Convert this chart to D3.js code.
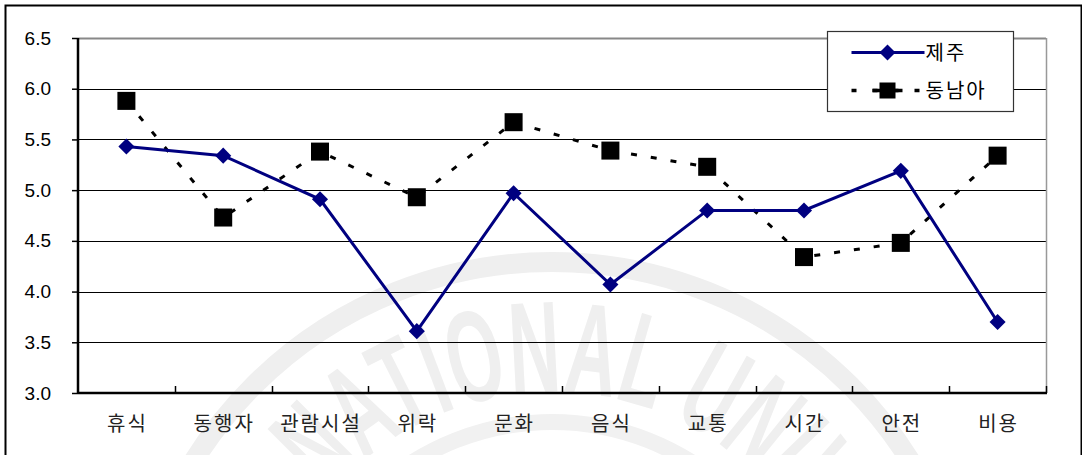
<!doctype html>
<html lang="ko">
  <head>
    <meta charset="UTF-8" />
    <title>제주 vs 동남아</title>
    <style>
      body { margin: 0; background: #fff; }
      text { font-family: "Liberation Sans", Arial, sans-serif; }
      .kr { font-family: "Noto Sans CJK KR", sans-serif; }
    </style>
  </head>
  <body>
    <div id="chart"></div>
    <script src="https://cdn.jsdelivr.net/npm/d3@7"></script>
    <script>
      const categories = ["휴식", "동행자", "관람시설", "위락", "문화", "음식", "교통", "시간", "안전", "비용"];
      const jeju = [5.43, 5.34, 4.91, 3.61, 4.97, 4.07, 4.80, 4.80, 5.19, 3.70];
      const seAsia = [5.88, 4.73, 5.38, 4.93, 5.67, 5.39, 5.23, 4.34, 4.48, 5.34];
      const yTicks = [3.0, 3.5, 4.0, 4.5, 5.0, 5.5, 6.0, 6.5];

      const width = 1082, height = 455;
      const margin = { top: 38, right: 36, bottom: 62, left: 78 };

      const svg = d3.select("#chart").append("svg")
          .attr("width", width)
          .attr("height", height);

      // faint watermark seal behind the chart
      const wm = svg.append("g").attr("transform", "translate(552,684)");
      wm.append("circle").attr("r", 422).attr("fill", "none")
          .attr("stroke", "#efefef").attr("stroke-width", 20);
      wm.append("circle").attr("r", 262).attr("fill", "none")
          .attr("stroke", "#f1f1f1").attr("stroke-width", 16);
      const r0 = 292, a0 = -50 * Math.PI / 180, a1 = 112 * Math.PI / 180;
      wm.append("path").attr("id", "wmArc").attr("fill", "none")
          .attr("d", `M${r0 * Math.sin(a0)},${-r0 * Math.cos(a0)}A${r0},${r0} 0 0 1 ${r0 * Math.sin(a1)},${-r0 * Math.cos(a1)}`);
      wm.append("text")
          .style("font-family", "'Liberation Sans Narrow', 'Liberation Sans', sans-serif")
          .style("font-weight", "bold")
          .style("font-size", "130px")
          .style("fill", "#efefef")
          .append("textPath")
          .attr("href", "#wmArc")
          .attr("textLength", 800)
          .attr("lengthAdjust", "spacingAndGlyphs")
          .text("NATIONAL UNIVERSITY");

      // outer frame
      svg.append("rect")
          .attr("x", 5.5).attr("y", 5.5)
          .attr("width", width - 6).attr("height", height + 10)
          .attr("fill", "none").attr("stroke", "#000").attr("stroke-width", 2);

      const x = d3.scaleBand().domain(categories)
          .range([margin.left, width - margin.right]);
      const y = d3.scaleLinear().domain([3, 6.5])
          .range([height - margin.bottom, margin.top]);

      // gridlines
      svg.append("g").selectAll("line")
          .data(yTicks.slice(1))
          .enter().append("line")
          .attr("x1", margin.left).attr("x2", width - margin.right)
          .attr("y1", d => Math.round(y(d)) + 0.5).attr("y2", d => Math.round(y(d)) + 0.5)
          .attr("stroke", d => d === 6.5 ? "#888" : "#000")
          .attr("stroke-width", d => d === 6.5 ? 2 : 1);

      // right edge
      svg.append("line")
          .attr("x1", width - margin.right + 0.5).attr("x2", width - margin.right + 0.5)
          .attr("y1", margin.top).attr("y2", height - margin.bottom)
          .attr("stroke", "#999").attr("stroke-width", 1.5);

      // y axis
      const yAxis = svg.append("g")
          .attr("transform", `translate(${margin.left},0)`)
          .call(d3.axisLeft(y).tickValues(yTicks).tickFormat(d3.format(".1f")).tickSize(6).tickPadding(21));
      yAxis.select(".domain").attr("stroke-width", 2.5).attr("d", `M0,${margin.top}V${height - margin.bottom}`);
      yAxis.selectAll(".tick line").attr("stroke-width", 1.5);
      yAxis.selectAll(".tick text").style("font-size", "19px").style("fill", "#000");

      // x axis
      const xAxis = svg.append("g")
          .attr("transform", `translate(0,${height - margin.bottom})`);
      xAxis.append("line")
          .attr("x1", margin.left).attr("x2", width - margin.right + 1)
          .attr("stroke", "#000").attr("stroke-width", 2.5);
      xAxis.selectAll("line.tk")
          .data(categories.slice(1).concat(["end"]))
          .enter().append("line").attr("class", "tk")
          .attr("x1", (d, i) => Math.round(margin.left + x.step() * (i + 1)) + 0.5)
          .attr("x2", (d, i) => Math.round(margin.left + x.step() * (i + 1)) + 0.5)
          .attr("y1", 0).attr("y2", -7)
          .attr("stroke", "#000").attr("stroke-width", 1.5);
      xAxis.selectAll("text")
          .data(categories)
          .enter().append("text")
          .attr("class", "kr")
          .attr("x", d => x(d) + x.bandwidth() / 2 + 1)
          .attr("y", 38)
          .attr("text-anchor", "middle")
          .style("fill", "#222")
          .style("font-size", "20px")
          .style("letter-spacing", "2px")
          .text(d => d);

      const cx = (d, i) => x(categories[i]) + x.bandwidth() / 2;
      const line = d3.line().x(cx).y(d => y(d));

      // 동남아 series
      svg.append("path")
          .datum(seAsia)
          .attr("d", line)
          .attr("fill", "none")
          .attr("stroke", "#000")
          .attr("stroke-width", 3)
          .attr("stroke-dasharray", "6,14");
      svg.append("g").selectAll("rect")
          .data(seAsia)
          .enter().append("rect")
          .attr("x", (d, i) => cx(d, i) - 9)
          .attr("y", d => y(d) - 9)
          .attr("width", 18).attr("height", 18)
          .attr("fill", "#000");

      // 제주 series
      svg.append("path")
          .datum(jeju)
          .attr("d", line)
          .attr("fill", "none")
          .attr("stroke", "#000080")
          .attr("stroke-width", 3);
      const diamond = d3.symbol().type(d3.symbolDiamond2).size(165);
      svg.append("g").selectAll("path")
          .data(jeju)
          .enter().append("path")
          .attr("d", diamond)
          .attr("transform", (d, i) => `translate(${cx(d, i)},${y(d)})`)
          .attr("fill", "#000080");

      // legend
      const lg = svg.append("g").attr("transform", "translate(827.5,31.5)");
      lg.append("rect")
          .attr("width", 186).attr("height", 80)
          .attr("fill", "#fff").attr("stroke", "#333").attr("stroke-width", 1.2);
      lg.append("line")
          .attr("x1", 24).attr("x2", 97).attr("y1", 21).attr("y2", 21)
          .attr("stroke", "#000080").attr("stroke-width", 3);
      lg.append("path")
          .attr("d", diamond)
          .attr("transform", "translate(60,21)")
          .attr("fill", "#000080");
      lg.append("text").attr("class", "kr")
          .attr("x", 98).attr("y", 28)
          .style("fill", "#000")
          .style("font-size", "20px").style("letter-spacing", "2px")
          .text("제주");
      lg.append("line")
          .attr("x1", 24).attr("x2", 97).attr("y1", 59).attr("y2", 59)
          .attr("stroke", "#000").attr("stroke-width", 3.5)
          .attr("stroke-dasharray", "5,16");
      lg.append("line")
          .attr("x1", 45).attr("x2", 75).attr("y1", 59).attr("y2", 59)
          .attr("stroke", "#000").attr("stroke-width", 3.5);
      lg.append("rect")
          .attr("x", 52).attr("y", 51).attr("width", 16).attr("height", 16)
          .attr("fill", "#000");
      lg.append("text").attr("class", "kr")
          .attr("x", 98).attr("y", 66)
          .style("fill", "#000")
          .style("font-size", "20px").style("letter-spacing", "2px")
          .text("동남아");
    </script>
  </body>
</html>
